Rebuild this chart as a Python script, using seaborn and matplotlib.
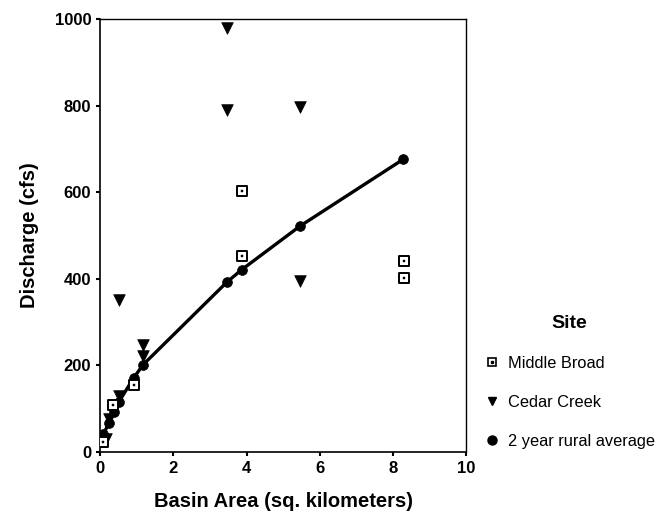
import numpy as np
import pandas as pd
import matplotlib
matplotlib.use("Agg")
import matplotlib.pyplot as plt
import matplotlib.lines as mlines
import seaborn as sns

# Values
middle_broad_area = [0.08, 0.36, 0.91, 3.88, 3.88, 8.30, 8.30]
middle_broad_q = [22, 109, 154, 602, 452, 440, 401]

cedar_creek_area = [0.16, 0.23, 0.50, 0.50, 1.17, 1.17, 3.46, 3.46, 5.45, 5.45]
cedar_creek_q = [29, 76, 130, 350, 222, 247, 790, 980, 394, 797]

rural_area = [0.06, 0.09, 0.23, 0.38, 0.50, 0.91, 1.17, 3.46, 3.87, 5.45, 8.28]
rural_q = [28, 40, 66, 91, 114, 170, 201, 392, 421, 521, 676]

x_ticks = [0, 2, 4, 6, 8, 10]
y_ticks = [0, 200, 400, 600, 800, 1000]

sites = ["Middle Broad", "Cedar Creek", "2 year rural average"]

df = pd.concat([
    pd.DataFrame({"area": middle_broad_area, "q": middle_broad_q, "site": sites[0]}),
    pd.DataFrame({"area": cedar_creek_area, "q": cedar_creek_q, "site": sites[1]}),
    pd.DataFrame({"area": rural_area, "q": rural_q, "site": sites[2]}),
], ignore_index=True)

sns.set_style("ticks")
plt.rcParams["font.family"] = ["Liberation Sans", "DejaVu Sans"]
plt.rcParams["text.color"] = "black"
plt.rcParams["axes.labelcolor"] = "black"
plt.rcParams["xtick.color"] = "black"
plt.rcParams["ytick.color"] = "black"

fig = plt.figure(figsize=(6.68, 5.29), dpi=100)
ax = fig.add_axes([0.150, 0.146, 0.548, 0.818])

rural = df[df["site"] == sites[2]].sort_values("area")
sns.lineplot(data=rural, x="area", y="q", color="black", linewidth=2.4,
             estimator=None, sort=True, ax=ax, legend=False)

sns.scatterplot(data=df[df["site"] == sites[2]], x="area", y="q", marker="o",
                color="black", s=50, edgecolor="black", linewidth=0.5, ax=ax, legend=False, zorder=4)
sns.scatterplot(data=df[df["site"] == sites[1]], x="area", y="q", marker="v",
                color="black", s=70, edgecolor="black", linewidth=0.5, ax=ax, legend=False, zorder=5)
mb = df[df["site"] == sites[0]]
sns.scatterplot(data=mb, x="area", y="q", marker="s", facecolor="white",
                s=42, edgecolor="black", linewidth=1.4, ax=ax, legend=False, zorder=6)
sns.scatterplot(data=mb, x="area", y="q", marker="s", color="black",
                s=4, edgecolor="black", linewidth=0.3, ax=ax, legend=False, zorder=7)

ax.set_xlim(0, 10)
ax.set_ylim(0, 1000)
ax.set_xticks(x_ticks)
ax.set_yticks(y_ticks)
ax.tick_params(axis="both", direction="out", length=3, width=1.5, labelsize=12,
               color="black", labelcolor="black")
for lab in ax.get_xticklabels() + ax.get_yticklabels():
    lab.set_fontweight("bold")
for sp in ax.spines.values():
    sp.set_color("black")
    sp.set_linewidth(1.0)
ax.spines["left"].set_linewidth(1.2)
ax.spines["bottom"].set_linewidth(1.2)

ax.set_xlabel("Basin Area (sq. kilometers)", fontsize=14.5, fontweight="bold", labelpad=12)
ax.set_ylabel("Discharge (cfs)", fontsize=14.5, fontweight="bold", labelpad=11)

# Legend with custom handles
h_mb = mlines.Line2D([], [], linestyle="none", marker="s", markersize=5.5,
                     markerfacecolor="white", markeredgecolor="black", markeredgewidth=1.2)
h_mb_dot = mlines.Line2D([], [], linestyle="none", marker="s", markersize=1.5,
                         color="black")
h_cc = mlines.Line2D([], [], linestyle="none", marker="v", markersize=6,
                     color="black")
h_ra = mlines.Line2D([], [], linestyle="none", marker="o", markersize=6.5,
                     color="black")
leg = fig.legend([(h_mb, h_mb_dot), h_cc, h_ra], sites, title="Site",
                 loc="upper left", bbox_to_anchor=(0.702, 0.432),
                 frameon=False, fontsize=11.8, title_fontsize=14,
                 labelspacing=1.45, handlelength=1.0, handletextpad=0.5)
leg.get_title().set_fontweight("bold")
leg._legend_box.align = "center"

fig.savefig("out.png", dpi=100)
